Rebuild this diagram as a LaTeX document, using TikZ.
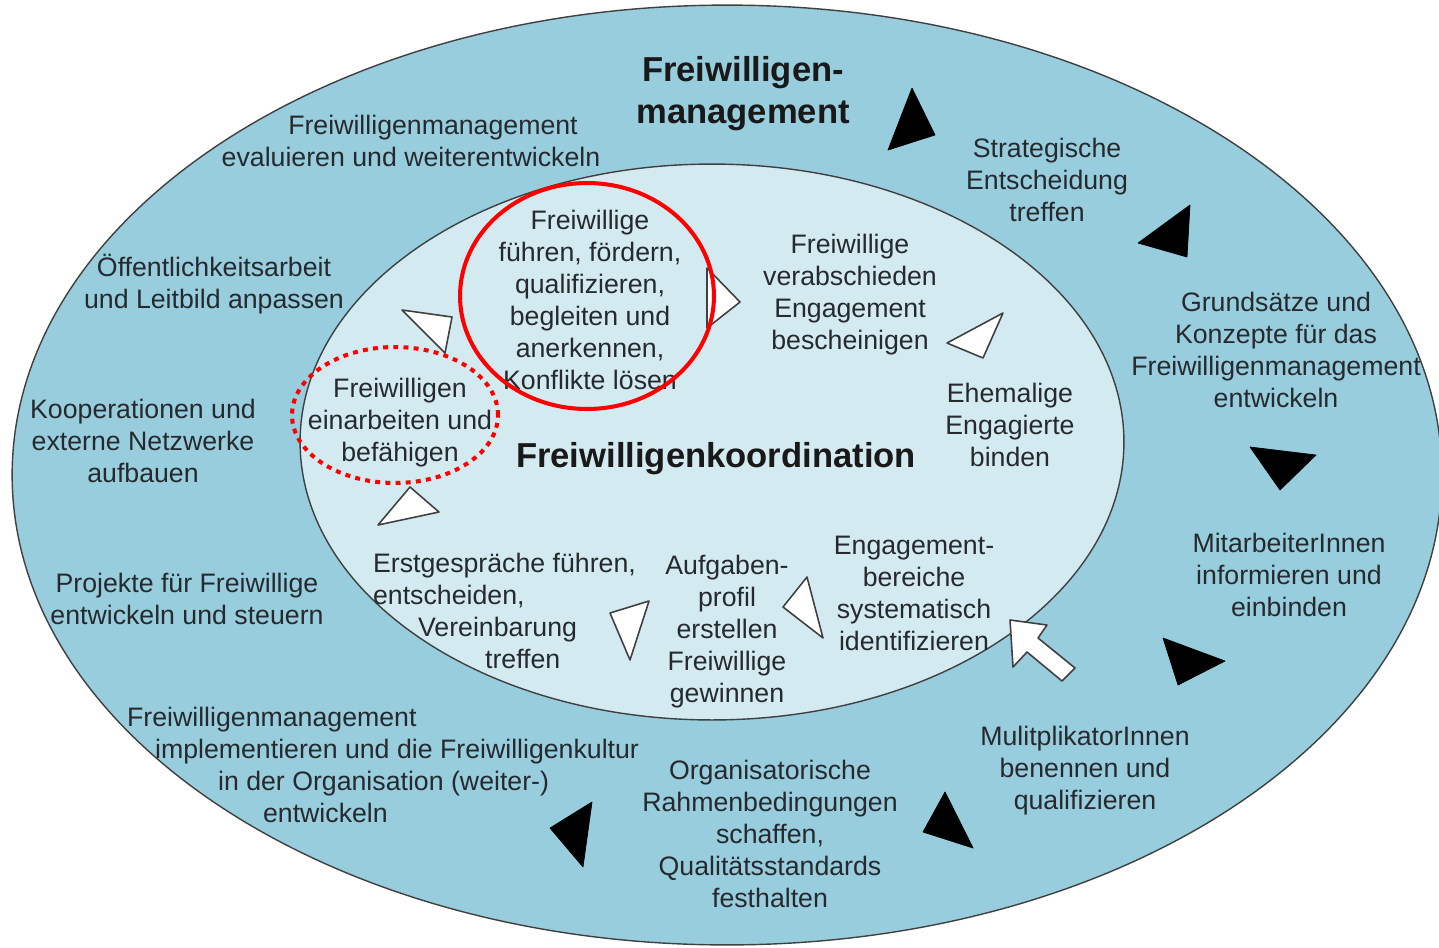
\documentclass[tikz,border=0pt]{standalone}
\usepackage{fontspec}
\setmainfont{Liberation Sans}
\usepackage{xcolor}
\usetikzlibrary{arrows.meta,positioning}
\definecolor{outerblue}{RGB}{152,205,221}
\definecolor{innerblue}{RGB}{211,234,241}
\definecolor{txtgray}{RGB}{38,42,46}
\tikzset{
  ringtext/.style={align=center, font=\fontsize{15.2}{18.2}\selectfont,
                   text=txtgray, inner sep=1pt},
  titletext/.style={align=center, font=\bfseries\fontsize{19.7}{23.8}\selectfont,
                    text=black!90, inner sep=1pt},
  blacktri/.style={fill=black, draw=black, line join=round, thin},
  whitetri/.style={fill=white, draw=black!75, line width=0.9pt, line join=round},
  ringline/.style={draw=black!75, line width=0.8pt}
}

\begin{document}
\begin{tikzpicture}[x=0.02cm, y=-0.02cm]
    \useasboundingbox (0,0) rectangle (1439,947);

    % Rings
    \draw[ringline, fill=outerblue] (727,475) ellipse [x radius=14.3cm, y radius=9.4cm];
    \draw[ringline, fill=innerblue] (712,442) ellipse [x radius=8.24cm, y radius=5.56cm];

    % Outer ring: Freiwilligenmanagement
    \node[titletext] (mgmt) at (743,94) {Freiwilligen-\\management};
    \node[ringtext] (evaluieren) at (411,141)
      {\hspace*{0.88cm}Freiwilligenmanagement\\evaluieren und weiterentwickeln};
    \node[ringtext] (strategie) at (1047,180) {Strategische\\Entscheidung\\treffen};
    \node[ringtext] (grundsaetze) at (1276,350)
      {Grundsätze und\\Konzepte für das\\Freiwilligenmanagement\\entwickeln};
    \node[ringtext] (mitarbeiter) at (1289,575) {MitarbeiterInnen\\informieren und\\einbinden};
    \node[ringtext] (multiplikator) at (1085,771) {MulitplikatorInnen\\benennen und\\qualifizieren};
    \node[ringtext] (rahmen) at (770,834)
      {Organisatorische\\Rahmenbedingungen\\schaffen,\\Qualitätsstandards\\festhalten};
    \node[ringtext, align=left, anchor=north west] (implementieren) at (125,705)
      {Freiwilligenmanagement\\
       \hspace*{0.56cm}implementieren und die Freiwilligenkultur\\
       \hspace*{1.82cm}in der Organisation (weiter-)\\
       \hspace*{2.72cm}entwickeln};
    \node[ringtext] (projekte) at (187,599) {Projekte für Freiwillige\\entwickeln und steuern};
    \node[ringtext] (kooperation) at (143,441) {Kooperationen und\\externe Netzwerke\\aufbauen};
    \node[ringtext] (oeffentlich) at (214,284) {Öffentlichkeitsarbeit\\und Leitbild anpassen};

    % Inner ellipse: Freiwilligenkoordination
    \node[titletext] (koord) at (716,459) {Freiwilligenkoordination};
    \node[ringtext] (fuehren) at (590,300)
      {Freiwillige\\führen, fördern,\\qualifizieren,\\begleiten und\\anerkennen,\\Konflikte lösen};
    \node[ringtext] (verabschieden) at (850,295)
      {Freiwillige\\verabschieden\\Engagement\\bescheinigen};
    \node[ringtext] (ehemalige) at (1010,425) {Ehemalige\\Engagierte\\binden};
    \node[ringtext] (bereiche) at (914,593)
      {Engagement-\\bereiche\\systematisch\\identifizieren};
    \node[ringtext] (aufgaben) at (727,632)
      {Aufgaben-\\profil\\erstellen\\Freiwillige\\gewinnen};
    \node[ringtext, align=left, anchor=north west] (erstgespraech) at (371,551)
      {Erstgespräche führen,\\
       entscheiden,\\
       \hspace*{0.9cm}Vereinbarung\\
       \hspace*{2.24cm}treffen};
    \node[ringtext] (einarbeiten) at (400,423)
      {Freiwilligen\\einarbeiten und\\befähigen};

    % Black arrow heads (outer cycle)
    \draw[blacktri] (912,88) -- (935,135) -- (888,150) -- cycle;
    \draw[blacktri] (1190,205) -- (1187,257) -- (1138,243) -- cycle;
    \draw[blacktri] (1250,447) -- (1316,455) -- (1280,490) -- cycle;
    \draw[blacktri] (1163,638) -- (1225,661) -- (1178,685) -- cycle;
    \draw[blacktri] (945,792) -- (923,832) -- (973,848) -- cycle;
    \draw[blacktri] (592,802) -- (550,828) -- (583,867) -- cycle;

    % White arrow heads (inner cycle)
    \draw[whitetri] (402,310) -- (452,317) -- (445,353) -- cycle;
    \draw[whitetri] (707,268) -- (740,302) -- (707,328) -- cycle;
    \draw[whitetri] (947,343) -- (1003,313) -- (983,358) -- cycle;
    \draw[whitetri] (410,487) -- (439,512) -- (378,525) -- cycle;
    \draw[whitetri] (610,613) -- (649,601) -- (630,660) -- cycle;
    \draw[whitetri] (807,577) -- (783,607) -- (823,638) -- cycle;

    % Block arrow into the inner ellipse
    \draw[whitetri] (1010,620) -- (1047,625) -- (1038,638) -- (1075,668)
      -- (1062,681) -- (1027,652) -- (1013,667) -- cycle;

    % Highlights
    \draw[red, line width=2.3pt] (587,296) ellipse [x radius=2.54cm, y radius=2.26cm];
    \draw[red, line width=2.3pt, dash pattern=on 2.8pt off 3pt]
      (395,415) ellipse [x radius=2.06cm, y radius=1.36cm];
\end{tikzpicture}
\end{document}
